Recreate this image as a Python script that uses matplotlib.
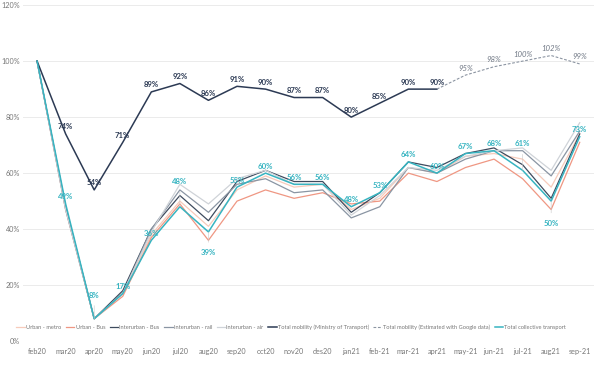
import matplotlib

matplotlib.use("Agg")
import matplotlib.pyplot as plt
import numpy as np

plt.rcParams["font.family"] = ["Lato", "DejaVu Sans"]

months = ["feb20", "mar20", "apr20", "may20", "jun20", "jul20", "aug20", "sep20",
          "oct20", "nov20", "des20", "jan21", "feb-21", "mar-21", "apr21", "may-21",
          "jun-21", "jul-21", "aug21", "sep-21"]

# shares of pre-covid level (%)
urban_metro = [100, 48, 8, 17, 38, 50, 41, 54, 59, 55, 56, 47, 51, 62, 60, 66, 67, 65, 55, 74]
urban_bus = [100, 47, 8, 16, 37, 49, 36, 50, 54, 51, 53, 49, 50, 60, 57, 62, 65, 58, 47, 71]
interurban_bus = [100, 48, 8, 18, 40, 52, 43, 57, 61, 57, 57, 46, 53, 64, 62, 67, 69, 63, 51, 74]
interurban_rail = [100, 47, 8, 17, 40, 54, 46, 56, 58, 53, 54, 44, 48, 62, 60, 65, 68, 68, 59, 75]
interurban_air = [100, 47, 8, 17, 39, 56, 49, 58, 61, 56, 56, 45, 52, 62, 61, 66, 68, 69, 61, 78]
total_mobility = [100, 74, 54, 71, 89, 92, 86, 91, 90, 87, 87, 80, 85, 90, 90]
total_google = [90, 95, 98, 100, 102, 99]  # from apr21 onwards
collective = [100, 49, 8, 17, 36, 48, 39, 55, 60, 56, 56, 48, 53, 64, 60, 67, 68, 61, 50, 73]

TEAL = "#37b4c1"
NAVY = "#2c3a54"

x = np.arange(len(months))
x_google = x[len(total_mobility) - 1:]

fig = plt.figure(figsize=(6, 3.66), dpi=100)
ax = fig.add_axes([0.038, 0.068, 0.952, 0.918])

def pct(v):
    return np.array(v) / 100

ax.plot(x, pct(urban_metro), color="#f7cbbb", lw=0.9, label="Urban - metro")
ax.plot(x, pct(urban_bus), color="#ef9783", lw=0.9, label="Urban - Bus")
ax.plot(x, pct(interurban_bus), color="#3e4b5e", lw=0.9, label="Interurban - Bus")
ax.plot(x, pct(interurban_rail), color="#8a95a3", lw=0.9, label="Interurban - rail")
ax.plot(x, pct(interurban_air), color="#cfd3d8", lw=0.9, label="Interurban - air")
ax.plot(x[:len(total_mobility)], pct(total_mobility), color=NAVY, lw=1.1,
        label="Total mobility (Ministry of Transport)")
ax.plot(x_google, pct(total_google), color="#8c95a2", lw=0.8, ls=(0, (2.5, 1.5)),
        label="Total mobility (Estimated with Google data)")
ax.plot(x, pct(collective), color=TEAL, lw=1.1, label="Total collective transport")

lab = dict(fontsize=5.6, ha="center", va="center", textcoords="offset points")
for i, v in enumerate(total_mobility[1:], start=1):
    ax.annotate(f"{v}%", (x[i], v / 100), xytext=(0, 5), color=NAVY,
                fontweight="bold", **lab)
for xi, v in zip(x_google[1:], total_google[1:]):
    ax.annotate(f"{v}%", (xi, v / 100), xytext=(0, 5), color="#6f7784",
                fontstyle="italic", **lab)

# labels Power BI nudged away from the crowded lines
nudge = {2: 17, 5: 18, 6: -15, 17: 19, 18: -16}
for i, v in enumerate(collective[1:], start=1):
    dy = nudge.get(i, 5)
    arrow = None
    if abs(dy) > 10:
        arrow = dict(arrowstyle="-", color="#c8c8c8", lw=0.4, shrinkA=3, shrinkB=0)
    ax.annotate(f"{v}%", (x[i], v / 100), xytext=(0, dy), color=TEAL,
                fontweight="bold", arrowprops=arrow, **lab)

ax.set_xlim(-0.5, len(months) - 0.5)
ax.set_ylim(0, 1.2)
ax.set_yticks(np.arange(0, 1.21, 0.2))
ax.set_yticklabels([f"{int(t)}%" for t in np.arange(0, 121, 20)])
ax.set_xticks(x)
ax.set_xticklabels(months)
ax.tick_params(length=0, labelsize=5.2, colors="#777777")
ax.tick_params(axis="x", pad=5)
ax.tick_params(axis="y", pad=2)
ax.grid(axis="y", color="#ebebeb", lw=0.7)
ax.set_axisbelow(True)
for s in ax.spines.values():
    s.set_visible(False)

ax.legend(loc="center", bbox_to_anchor=(0.47, 0.04), ncol=8, fontsize=4.1,
          frameon=False, handlelength=1.5, handletextpad=0.2, columnspacing=0.8,
          labelcolor="#777777")

fig.savefig("out.png", dpi=100)
